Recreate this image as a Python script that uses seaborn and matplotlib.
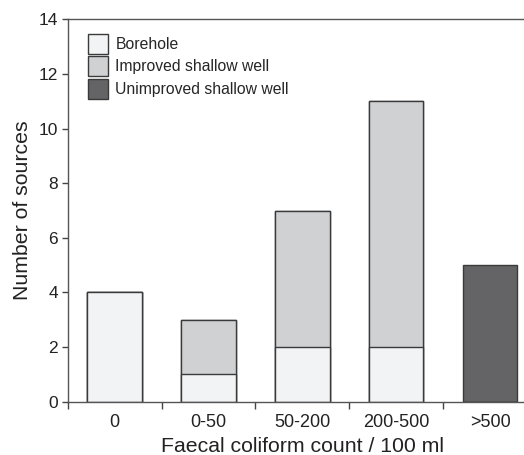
import matplotlib
matplotlib.use("Agg")
import matplotlib.pyplot as plt
import seaborn as sns
import numpy as np
from matplotlib.patches import Patch

categories = ["0", "0-50", "50-200", "200-500", ">500"]
borehole = [4, 1, 2, 2, 0]
improved = [0, 2, 5, 9, 0]
unimproved = [0, 0, 0, 0, 5]
series_names = ["Borehole", "Improved shallow well", "Unimproved shallow well"]
yticks = [0, 2, 4, 6, 8, 10, 12, 14]

colors = ["#f2f3f4", "#d0d1d3", "#646466"]
edge = "#3a3a3a"

sns.set_style("white")
plt.rcParams["font.family"] = ["Liberation Sans", "DejaVu Sans"]

fig = plt.figure(figsize=(5.24, 4.55), dpi=100)
W, H = 524, 455
x0, x1 = 67.7, 537.0
y0, y1 = 401.7, 19.3
ax = fig.add_axes([x0 / W, 1 - y0 / H, (x1 - x0) / W, (y0 - y1) / H])

b = np.array(borehole)
i = np.array(improved)
u = np.array(unimproved)
layers = [b + i + u, b + i, b]
for vals, col in zip(layers, colors[::-1]):
    sns.barplot(x=categories, y=vals, order=categories, color=col,
                saturation=1, width=0.58, edgecolor=edge, linewidth=1.0,
                ax=ax)

ax.set_xlim(-0.5, 4.5)
ax.set_ylim(0, 14)
ax.set_yticks(yticks)
ax.set_yticklabels([str(t) for t in yticks], fontsize=12.5)

# category labels centred, ticks at bin boundaries
ax.set_xticks(np.arange(-0.5, 5.0, 1.0))
ax.set_xticklabels([])
ax.set_xticks(np.arange(len(categories)), minor=True)
ax.set_xticklabels(categories, minor=True, fontsize=13)
ax.tick_params(axis="x", which="major", direction="out", length=5,
               width=1, color="#444", bottom=True)
ax.tick_params(axis="x", which="minor", length=0, pad=9)
ax.tick_params(axis="y", direction="out", length=4, width=1, color="#444",
               left=True, pad=3, labelcolor="#222")
ax.tick_params(axis="x", which="both", labelcolor="#222")

for side in ["left", "bottom", "top"]:
    ax.spines[side].set_visible(True)
    ax.spines[side].set_color("#555")
    ax.spines[side].set_linewidth(1.0)
ax.spines["right"].set_visible(False)

ax.set_xlabel("Faecal coliform count / 100 ml", fontsize=15.3, color="#222",
              labelpad=4.5)
ax.set_ylabel("Number of sources", fontsize=15.3, color="#222", labelpad=5)

handles = [Patch(facecolor=c, edgecolor=edge, linewidth=1.0) for c in colors]
ax.legend(handles, series_names, loc="upper left",
          bbox_to_anchor=(0.044, 0.962), frameon=False, fontsize=11.3,
          handlelength=1.27, handleheight=1.58, labelspacing=0.16,
          handletextpad=0.45, borderpad=0, borderaxespad=0)

fig.savefig("out.png", dpi=100)
